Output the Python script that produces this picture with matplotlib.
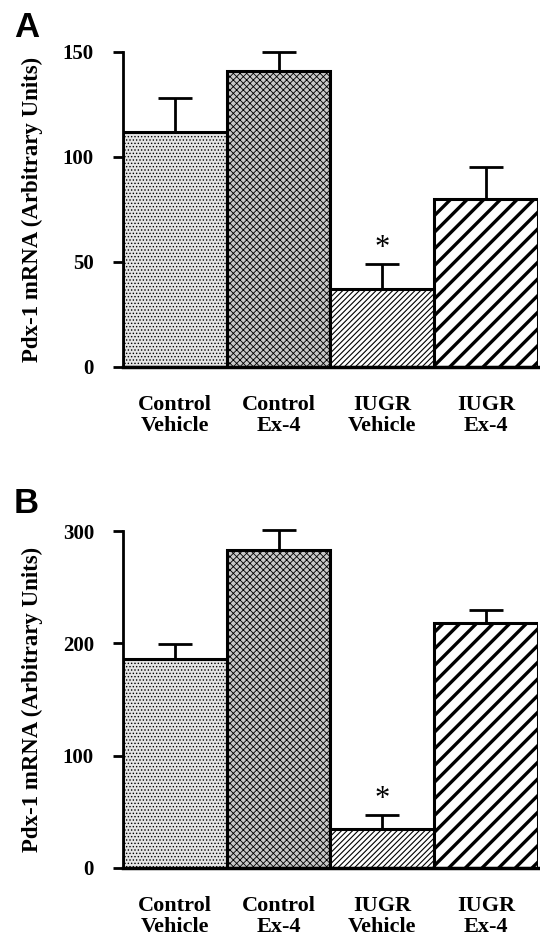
import matplotlib.pyplot as plt
import numpy as np

plt.rcParams['font.family'] = ['Liberation Serif', 'DejaVu Serif']
plt.rcParams['font.weight'] = 'bold'

grupos = ['Control\nVehicle', 'Control\nEx-4', 'IUGR\nVehicle', 'IUGR\nEx-4']
valores_a = [112, 141, 37, 80]
erros_a = [16, 9, 12, 15]
valores_b = [186, 283, 35, 218]
erros_b = [13, 18, 12, 12]
yticks_a = [0, 50, 100, 150]
yticks_b = [0, 100, 200, 300]

hachuras = ['.....', 'xxxxx', '//////', '//']
cores = ['#e4e4e4', '#c8c8c8', 'white', 'white']
larg_hatch = [0.6, 0.6, 0.8, 2.4]


def desenha_painel(ax, valores, erros, yticks):
    x = np.arange(len(valores))
    barras = ax.bar(x, valores, width=1.0, color=cores, edgecolor='black',
                    linewidth=2.2, zorder=2)
    for b, h, lw in zip(barras, hachuras, larg_hatch):
        b.set_hatch(h)
        try:
            b.set_hatch_linewidth(lw)
        except AttributeError:
            pass
    ax.errorbar(x, valores, yerr=[np.zeros(len(erros)), erros], fmt='none',
                ecolor='black', elinewidth=2, capsize=12, capthick=2,
                zorder=1, clip_on=False)
    # asterisco sobre IUGR Vehicle
    ax.annotate('*', (2, valores[2] + erros[2]), xytext=(0, 1),
                textcoords='offset points', ha='center', va='bottom',
                fontsize=22, fontweight='normal')
    ax.set_xlim(-0.5, 3.5)
    ax.set_ylim(yticks[0], yticks[-1])
    ax.set_yticks(yticks)
    ax.set_xticks(x)
    ax.set_xticklabels(grupos, fontsize=16, fontweight='bold', linespacing=1.1)
    ax.tick_params(axis='x', length=0, pad=20)
    ax.tick_params(axis='y', length=7, width=2, labelsize=15, direction='out',
                   pad=14)
    for s in ['top', 'right']:
        ax.spines[s].set_visible(False)
    ax.spines['left'].set_linewidth(2)
    ax.spines['bottom'].set_linewidth(2.5)
    ax.set_ylabel('Pdx-1 mRNA (Arbitrary Units)', fontsize=16.5,
                  fontweight='bold', labelpad=14)


fig = plt.figure(figsize=(5.4, 9.4), dpi=100)
ax_a = fig.add_axes([0.228, 0.6096, 0.768, 0.3351])
ax_b = fig.add_axes([0.228, 0.0766, 0.768, 0.3585])

desenha_painel(ax_a, valores_a, erros_a, yticks_a)
desenha_painel(ax_b, valores_b, erros_b, yticks_b)

fig.text(0.026, 0.988, 'A', fontsize=25, fontweight='bold',
         family='Liberation Sans', ha='left', va='top')
fig.text(0.026, 0.482, 'B', fontsize=25, fontweight='bold',
         family='Liberation Sans', ha='left', va='top')

fig.savefig('out.png', dpi=100)
